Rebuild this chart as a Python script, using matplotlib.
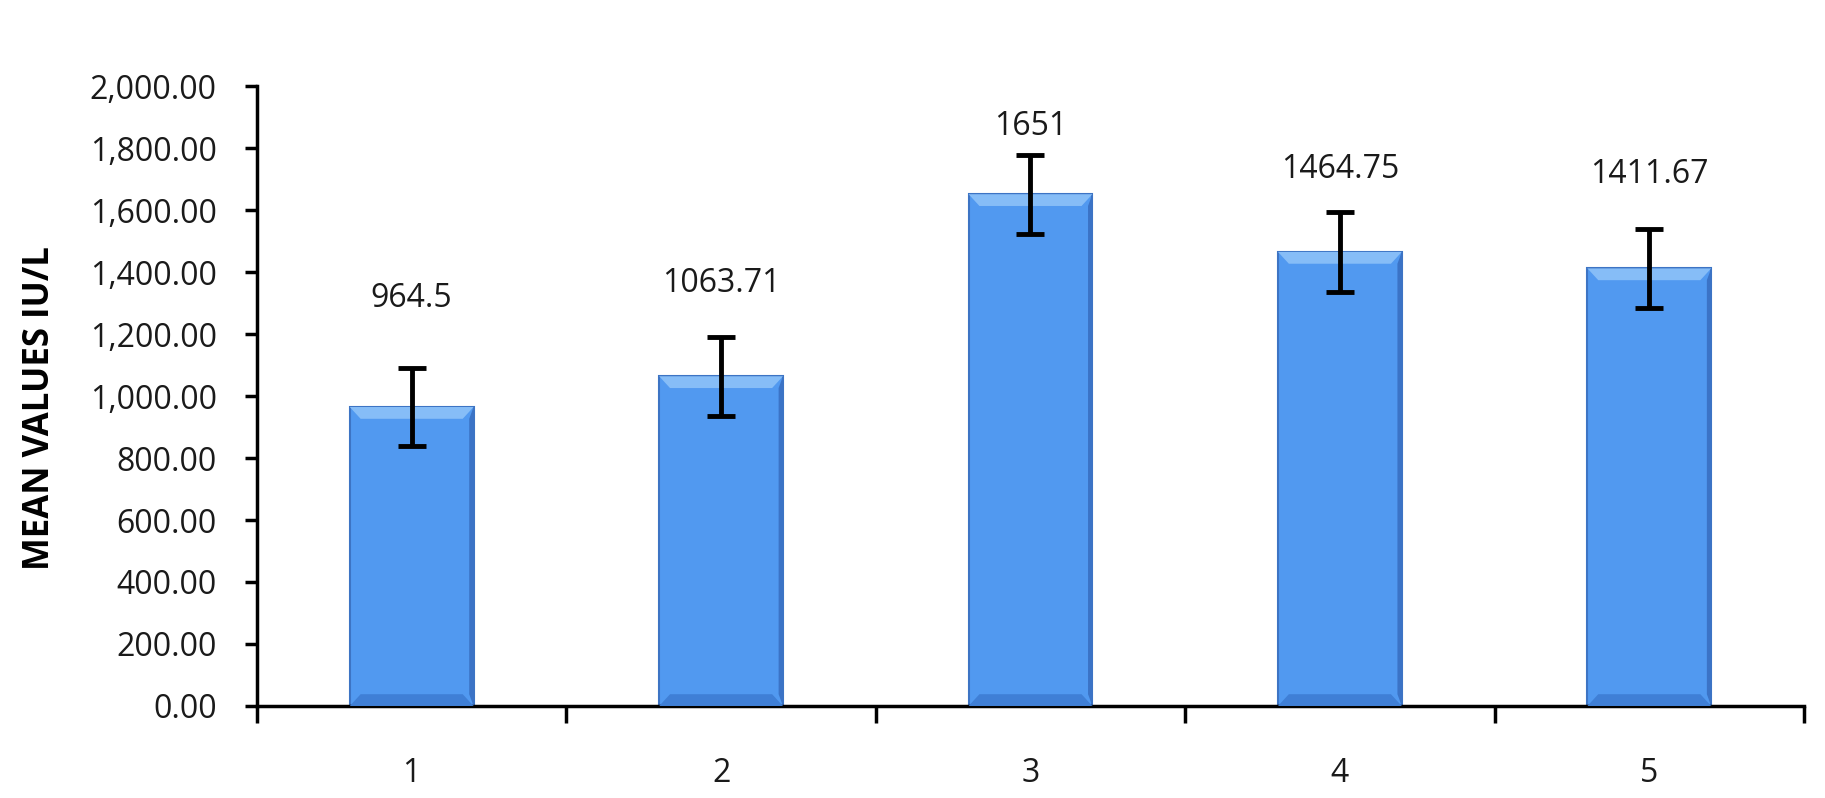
import matplotlib
matplotlib.use("Agg")
import matplotlib.pyplot as plt
from matplotlib.patches import Polygon
from matplotlib.ticker import FuncFormatter

# data
categories = ["1", "2", "3", "4", "5"]
mean_values = [964.5, 1063.71, 1651, 1464.75, 1411.67]
errors = [127, 127, 128, 130, 128]
value_labels = ["964.5", "1063.71", "1651", "1464.75", "1411.67"]

# where the data labels sit (manually placed in the original)
label_y = [1316, 1364, 1868, 1732, 1713]

plt.rcParams["font.family"] = ["Open Sans", "DejaVu Sans"]

fig = plt.figure(figsize=(18.25, 7.98), dpi=100)
ax = fig.add_axes([0.1408, 0.1153, 0.8477, 0.7769])

x = list(range(1, len(categories) + 1))
bars = ax.bar(x, mean_values, width=0.4, color="#5199f0",
              edgecolor="#3d74c4", linewidth=1.5, zorder=2)

# simple bevel effect on each bar
bev_x = 0.035
bev_y = 38
for b in bars:
    x0, y0 = b.get_x(), b.get_y()
    w, h = b.get_width(), b.get_height()
    x1, y1 = x0 + w, y0 + h
    ax.add_patch(Polygon([(x0, y1), (x1, y1), (x1 - bev_x, y1 - bev_y), (x0 + bev_x, y1 - bev_y)],
                         closed=True, facecolor="#86bdf7", edgecolor="none", zorder=3))
    ax.add_patch(Polygon([(x0, y0), (x1, y0), (x1 - bev_x, y0 + bev_y), (x0 + bev_x, y0 + bev_y)],
                         closed=True, facecolor="#3f7fd6", edgecolor="none", zorder=3))
    ax.add_patch(Polygon([(x1, y0), (x1, y1), (x1 - bev_x * 0.4, y1 - bev_y), (x1 - bev_x * 0.4, y0 + bev_y)],
                         closed=True, facecolor="#3b73c6", edgecolor="none", zorder=3))

ax.errorbar(x, mean_values, yerr=errors, fmt="none", ecolor="black",
            elinewidth=3.5, capsize=10, capthick=3.5, zorder=4)

for xi, ly, txt in zip(x, label_y, value_labels):
    ax.text(xi, ly, txt, ha="center", va="center", fontsize=23, color="#1a1a1a")

ax.set_xlim(0.5, len(categories) + 0.5)
ax.set_ylim(0, 2000)
ax.set_yticks(range(0, 2001, 200))
ax.yaxis.set_major_formatter(FuncFormatter(lambda v, p: f"{v:,.2f}"))

# ticks between categories, labels at centres
ax.set_xticks([i + 0.5 for i in range(len(categories) + 1)])
ax.set_xticklabels([])
ax.set_xticks(x, minor=True)
ax.set_xticklabels(categories, minor=True)
ax.tick_params(axis="x", which="major", direction="out", length=12, width=2.5)
ax.tick_params(axis="x", which="minor", length=0, pad=37, labelsize=23, labelcolor="#1a1a1a")
ax.tick_params(axis="y", direction="out", length=9, width=2.5, pad=20, labelsize=23,
               labelcolor="#1a1a1a")

for side in ["top", "right"]:
    ax.spines[side].set_visible(False)
for side in ["left", "bottom"]:
    ax.spines[side].set_linewidth(2.5)

ax.set_ylabel("MEAN VALUES IU/L", fontsize=25, fontweight="bold")
ax.yaxis.set_label_coords(-0.1286, 0.48)

fig.savefig("out.png", dpi=100)
